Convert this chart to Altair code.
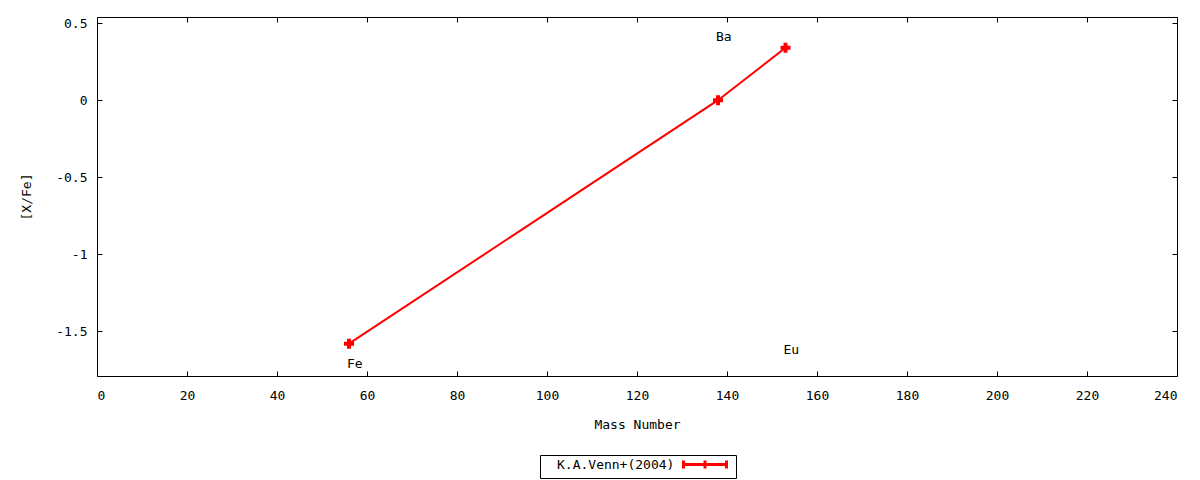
import altair as alt
import pandas as pd

# ---- data ----
mass = [56, 138, 153]
xfe = [-1.58, 0.0, 0.34]
elements = ["Fe", "Ba", "Eu"]
label_x = [56, 138, 153]
label_y = [-1.71, 0.41, -1.62]
series_name = "K.A.Venn+(2004)"
x_ticks = list(range(0, 241, 20))
y_ticks = [-1.5, -1, -0.5, 0, 0.5]
x_domain = [0, 240]
y_domain = [-1.79, 0.54]

W, H = 1080, 359
FONT = "DejaVu Sans Mono"
FS = 13

df = pd.DataFrame({"mass": mass, "xfe": xfe, "series": [series_name] * len(mass)})
lab = pd.DataFrame({"x": label_x, "y": label_y, "t": elements})

xs = alt.Scale(domain=x_domain, nice=False, zero=False)
ys = alt.Scale(domain=y_domain, nice=False, zero=False)

x_main = alt.Axis(values=x_ticks, orient="bottom", ticks=False, tickSize=0, domain=False, grid=False,
                  labelFont=FONT, labelFontSize=FS, labelColor="black", labelPadding=13,
                  labelExpr="toString(datum.value)",
                  title="Mass Number", titleFont=FONT, titleFontSize=FS, titleFontWeight="normal",
                  titleColor="black", titlePadding=16)
y_main = alt.Axis(values=y_ticks, orient="left", ticks=False, tickSize=0, domain=False, grid=False,
                  labelFont=FONT, labelFontSize=FS, labelColor="black", labelPadding=10,
                  labelExpr="toString(datum.value)",
                  title="[X/Fe]", titleFont=FONT, titleFontSize=FS, titleFontWeight="normal",
                  titleColor="black", titlePadding=22)

def tick_axis(values, orient, offset):
    # inward-pointing mirror ticks, gnuplot style
    return alt.Axis(values=values, orient=orient, offset=offset, labels=False, domain=False,
                    grid=False, ticks=True, tickSize=5, tickColor="black", tickWidth=1, title=None)

legend = alt.Legend(title=None, orient="none", legendX=443, legendY=438, direction="vertical",
                    strokeColor="black", padding=3, cornerRadius=0,
                    symbolType="M26.8,0H35.4M26.8,-0.8V0.8M35.4,-0.8V0.8M31.1,-0.8V0.8",
                    symbolSize=100, symbolStrokeWidth=3, symbolStrokeColor="#ff0000",
                    symbolFillColor="transparent",
                    labelFont=FONT, labelFontSize=FS, labelColor="black", labelOffset=1)

color = alt.Color("series:N", scale=alt.Scale(domain=[series_name], range=["#ff0000"]), legend=legend)

line = alt.Chart(df).mark_line(strokeWidth=2).encode(
    x=alt.X("mass:Q", scale=xs, axis=x_main),
    y=alt.Y("xfe:Q", scale=ys, axis=y_main),
    color=color,
)

points = alt.Chart(df).mark_point(shape="cross", filled=True, size=100, opacity=1, color="#ff0000").encode(
    x=alt.X("mass:Q", scale=xs, axis=tick_axis(x_ticks, "bottom", -H)),
    y=alt.Y("xfe:Q", scale=ys, axis=tick_axis(y_ticks, "left", -W)),
)

labels = alt.Chart(lab).mark_text(align="left", baseline="middle", dx=-2, font=FONT, fontSize=FS,
                                   color="black").encode(
    x=alt.X("x:Q", scale=xs, axis=tick_axis(x_ticks, "top", -H)),
    y=alt.Y("y:Q", scale=ys, axis=tick_axis(y_ticks, "right", -W)),
    text="t:N",
)

chart = alt.layer(line, points, labels).resolve_axis(x="independent", y="independent").properties(
    width=W, height=H,
    autosize=alt.AutoSizeParams(type="none"),
    padding={"left": 89, "top": 9, "right": 15, "bottom": 104},
    background="white",
).configure_view(stroke="black", strokeWidth=1)

chart.save("out.html", embed_options={"renderer": "svg", "actions": False})
